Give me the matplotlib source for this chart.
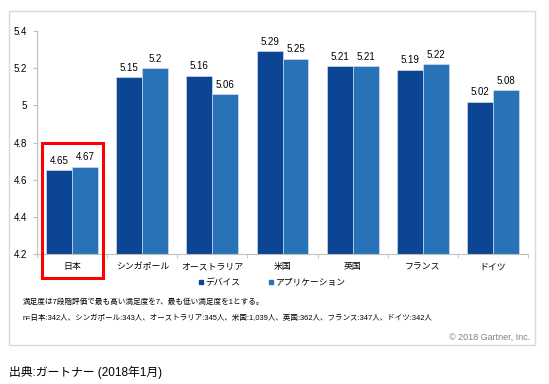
import matplotlib
matplotlib.use("Agg")
import matplotlib.pyplot as plt
import numpy as np
from matplotlib.patches import Rectangle
from matplotlib.lines import Line2D

plt.rcParams['font.family'] = ['Liberation Sans', 'Noto Sans CJK JP', 'DejaVu Sans']

categories = ["日本", "シンガポール", "オーストラリア", "米国", "英国", "フランス", "ドイツ"]
device = [4.65, 5.15, 5.16, 5.29, 5.21, 5.19, 5.02]
app = [4.67, 5.20, 5.06, 5.25, 5.21, 5.22, 5.08]
device_labels = ["4.65", "5.15", "5.16", "5.29", "5.21", "5.19", "5.02"]
app_labels = ["4.67", "5.2", "5.06", "5.25", "5.21", "5.22", "5.08"]
yticks = [4.2, 4.4, 4.6, 4.8, 5.0, 5.2, 5.4]
ytick_labels = ["4.2", "4.4", "4.6", "4.8", "5", "5.2", "5.4"]
series_names = ["デバイス", "アプリケーション"]

W, H = 549, 384
fig = plt.figure(figsize=(W / 100, H / 100), dpi=100)

def fx(px):
    return px / W

def fy(py):
    return 1 - py / H

ax = fig.add_axes([fx(37), fy(254), fx(528) - fx(37), fy(31) - fy(254)])

c_dev = "#0b4594"
c_app = "#2873b8"
x = np.arange(len(categories))
bw = 0.37
ax.bar(x - bw / 2, np.array(device) - 4.2, bw, bottom=4.2, color=c_dev, edgecolor="#dfe8f3", linewidth=0.4)
ax.bar(x + bw / 2, np.array(app) - 4.2, bw, bottom=4.2, color=c_app, edgecolor="#dfe8f3", linewidth=0.4)

for i in range(len(categories)):
    ax.text(x[i] - bw / 2, device[i] + 0.025, device_labels[i], ha="center", va="bottom", fontsize=7)
    ax.text(x[i] + bw / 2, app[i] + 0.025, app_labels[i], ha="center", va="bottom", fontsize=7)

ax.set_xlim(-0.5, len(categories) - 0.5)
ax.set_ylim(4.2, 5.4)
ax.set_yticks(yticks)
ax.set_yticklabels(ytick_labels, fontsize=7)
ax.set_xticks(x)
ax.set_xticklabels(categories, fontsize=6.4)
ax.tick_params(axis="x", length=0, pad=6)
ax.tick_params(axis="y", length=3, color="#bfbfbf", pad=4)
ax.set_xticks(np.arange(-0.5, len(categories), 1), minor=True)
ax.tick_params(axis="x", which="minor", length=3, color="#bfbfbf")
for s in ["top", "right"]:
    ax.spines[s].set_visible(False)
ax.spines["left"].set_color("#bfbfbf")
ax.spines["bottom"].set_color("#bfbfbf")
ax.spines["left"].set_linewidth(0.8)
ax.spines["bottom"].set_linewidth(0.8)

# red highlight box around Japan
ax.add_patch(Rectangle((-0.43, 4.071), 0.87, 4.797 - 4.071, fill=False, edgecolor="#ff0000",
                       linewidth=2.2, clip_on=False, transform=ax.transData, zorder=5))

# legend
handles = [Line2D([], [], marker="s", linestyle="none", color=c_dev, markersize=3.5),
           Line2D([], [], marker="s", linestyle="none", color=c_app, markersize=3.5)]
fig.legend(handles, series_names, loc="center", bbox_to_anchor=(fx(272), fy(283)), ncol=2,
           frameon=False, fontsize=6.3, handlelength=0.6, handletextpad=0.2, columnspacing=3.2)

fig.text(fx(23), fy(302), "満足度は7段階評価で最も高い満足度を7、最も低い満足度を1とする。", fontsize=5.5,
         va="center", ha="left")
fig.text(fx(23), fy(318), "n=日本:342人、シンガポール:343人、オーストラリア:345人、米国:1,039人、英国:362人、フランス:347人、ドイツ:342人",
         fontsize=5.4, va="center", ha="left")
fig.text(fx(530), fy(337), "© 2018 Gartner, Inc.", fontsize=6.5, va="center", ha="right", color="#808080")

# outer frame
fig.add_artist(Rectangle((fx(9), fy(345)), fx(535) - fx(9), fy(11) - fy(345), fill=False,
                         edgecolor="#d9d9d9", linewidth=1, transform=fig.transFigure))

fig.text(fx(9), fy(372), "出典:ガートナー (2018年1月)", fontsize=8.5, va="center", ha="left")

fig.savefig("out.png", dpi=100)
